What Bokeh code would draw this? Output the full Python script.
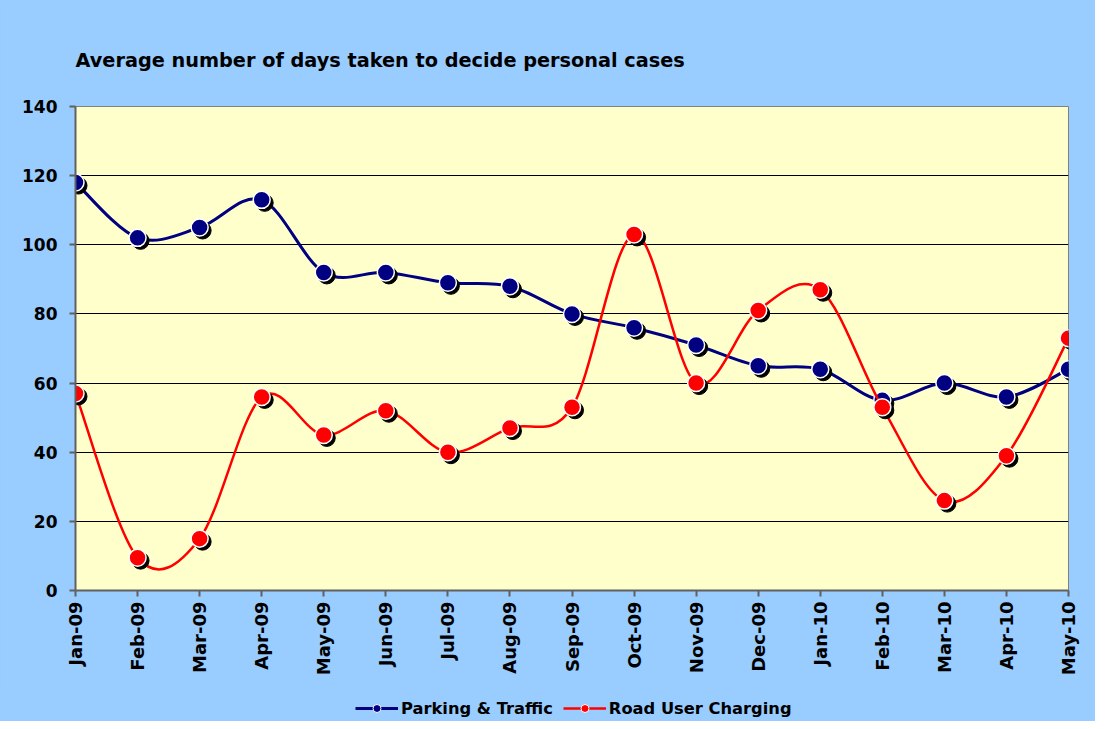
import numpy as np
from math import pi
from bokeh.plotting import figure
from bokeh.layouts import column
from bokeh.models import Range1d, FixedTicker, Legend, LegendItem, ColumnDataSource
from bokeh.embed import file_html
from bokeh.resources import INLINE

months = ["Jan-09", "Feb-09", "Mar-09", "Apr-09", "May-09", "Jun-09", "Jul-09", "Aug-09",
          "Sep-09", "Oct-09", "Nov-09", "Dec-09", "Jan-10", "Feb-10", "Mar-10", "Apr-10", "May-10"]
parking = [118, 102, 105, 113, 92, 92, 89, 88, 80, 76, 71, 65, 64, 55, 60, 56, 64]
ruc = [57, 9.5, 15, 56, 45, 52, 40, 47, 53, 103, 60, 81, 87, 53, 26, 39, 73]
series_names = ["Parking & Traffic", "Road User Charging"]
series_colors = ["#000080", "#FF0000"]

FONT = "DejaVu Sans"
BG = "#99CCFF"
FW, FH = 993, 484
ML, MR, MT, MB = 75, 27, 106, 104
LEG_H = 27

p = figure(frame_width=FW, frame_height=FH, output_backend="svg", toolbar_location=None,
           x_range=Range1d(0, 16), y_range=Range1d(0, 140),
           min_border_left=ML, min_border_right=MR, min_border_top=MT, min_border_bottom=MB)
p.background_fill_color = "#FFFFCC"
p.border_fill_color = BG
p.outline_line_color = "#808080"
p.outline_line_width = 1

p.title.text = "Average number of days taken to decide personal cases"
p.title.text_font = FONT
p.title.text_font_size = "19.3px"
p.title.text_font_style = "bold"
p.title.text_color = "black"
p.title.align = "left"
p.title.standoff = 70

# axes
xs = list(range(len(months)))
p.xaxis.ticker = FixedTicker(ticks=xs)
p.xaxis.major_label_overrides = {i: m for i, m in enumerate(months)}
p.xaxis.major_label_orientation = pi / 2
p.yaxis.ticker = FixedTicker(ticks=list(range(0, 141, 20)))
for ax in (p.xaxis, p.yaxis):
    ax.axis_line_color = "#606060"
    ax.axis_line_width = 2
    ax.major_tick_line_color = "#606060"
    ax.major_tick_line_width = 2
    ax.major_tick_out = 6
    ax.major_tick_in = 0
    ax.minor_tick_line_color = None
    ax.major_label_text_font = FONT
    ax.major_label_text_font_style = "bold"
    ax.major_label_text_color = "black"
p.xaxis.major_label_text_font_size = "18px"
p.xaxis.major_label_standoff = 5
p.yaxis.major_label_text_font_size = "17px"
p.yaxis.major_label_standoff = 12
p.xgrid.grid_line_color = None
p.ygrid.grid_line_color = "black"
p.ygrid.grid_line_width = 1


def bezier_source(xv, yv):
    x = np.asarray(xv, float)
    y = np.asarray(yv, float)
    n = len(x)
    xp = np.concatenate([[x[0]], x, [x[-1]]])
    yp = np.concatenate([[y[0]], y, [y[-1]]])
    return ColumnDataSource(dict(
        x0=x[:-1], y0=y[:-1], x1=x[1:], y1=y[1:],
        cx0=x[:-1] + (xp[2:n + 1] - xp[0:n - 1]) / 6,
        cy0=y[:-1] + (yp[2:n + 1] - yp[0:n - 1]) / 6,
        cx1=x[1:] - (xp[3:n + 2] - xp[1:n]) / 6,
        cy1=y[1:] - (yp[3:n + 2] - yp[1:n]) / 6,
    ))


# pixel scale for marker shadows
dx = 3 * 16 / FW
dy = 3 * 140 / FH

widths = [3, 2.5]
for vals, col, lw in zip([parking, ruc], series_colors, widths):
    p.bezier(x0="x0", y0="y0", x1="x1", y1="y1", cx0="cx0", cy0="cy0", cx1="cx1", cy1="cy1",
             source=bezier_source(xs, vals), line_color=col, line_width=lw)
    p.scatter(x=[v + dx for v in xs], y=[v - dy for v in vals], size=17,
              fill_color="black", line_color="black")
    p.scatter(x=xs, y=vals, size=17, fill_color=col, line_color="white", line_width=1.5)

# legend strip below the chart (same look as the chart's outer area)
lg = figure(width=ML + FW + MR, height=LEG_H, output_backend="svg", toolbar_location=None,
            x_range=Range1d(0, 1), y_range=Range1d(0, 1),
            min_border_left=0, min_border_right=0, min_border_top=0, min_border_bottom=0)
lg.axis.visible = False
lg.grid.visible = False
lg.outline_line_color = None
lg.background_fill_alpha = 0
lg.border_fill_alpha = 0

items = []
for name, col, lw in zip(series_names, series_colors, widths):
    ln = lg.line(x=[-10, -9], y=[-10, -10], line_color=col, line_width=lw)
    sc = lg.scatter(x=[-10], y=[-10], size=10, fill_color=col, line_color="white", line_width=1)
    items.append(LegendItem(label=name, renderers=[ln, sc]))

legend = Legend(items=items, orientation="horizontal", location=(280, 3),
                background_fill_alpha=0, border_line_color=None,
                label_text_font=FONT, label_text_font_style="bold", label_text_color="black",
                label_text_font_size="16.3px", glyph_width=43, glyph_height=20,
                spacing=10, label_standoff=3, padding=0, margin=0)
lg.add_layout(legend, "center")

layout = column(p, lg, spacing=0, styles={"background-color": BG})
open("out.html", "w").write(file_html(layout, INLINE))
